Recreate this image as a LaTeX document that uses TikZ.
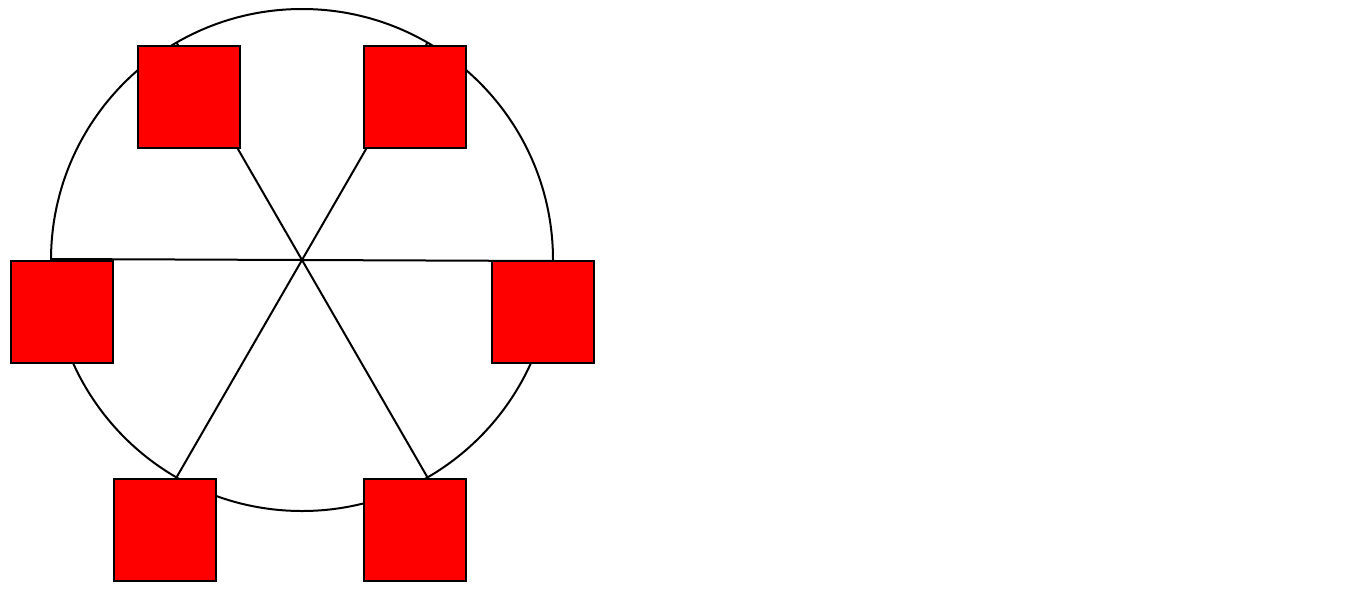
\documentclass[tikz,border=0pt]{standalone}
\usepackage{tikz}
\usepackage{xcolor}
\usetikzlibrary{positioning, calc}
\definecolor{boxred}{HTML}{FF0000}

\begin{document}
\begin{tikzpicture}[
  x=0.02cm, y=-0.02cm,
  spoke/.style={line width=0.04cm, black},
  rim/.style={line width=0.04cm, black},
  seat/.style={rectangle, draw=black, fill=boxred, line width=0.04cm, minimum size=2.04cm, inner sep=0pt},
]
  \useasboundingbox (0,0) rectangle (1366,599);

  % Hub and rim points
  \coordinate (hub) at (302,260);
  \coordinate (p0) at (553,261);
  \coordinate (p60) at (427.5,42.6);
  \coordinate (p120) at (176.5,42.6);
  \coordinate (p180) at (51,259);
  \coordinate (p240) at (176.5,477.4);
  \coordinate (p300) at (427.5,477.4);

  % Rim
  \draw[rim] (hub) circle[radius=251];

  % Spokes
  \draw[spoke] (hub) -- (p0);
  \draw[spoke] (hub) -- (p60);
  \draw[spoke] (hub) -- (p120);
  \draw[spoke] (hub) -- (p180);
  \draw[spoke] (hub) -- (p240);
  \draw[spoke] (hub) -- (p300);

  % Seats
  \node[seat] (topleft) at (189,97) {};
  \node[seat] (topright) at (415,97) {};
  \node[seat] (right) at (543,312) {};
  \node[seat] (left) at (62,312) {};
  \node[seat] (botleft) at (165,530) {};
  \node[seat] (botright) at (415,530) {};
\end{tikzpicture}
\end{document}
